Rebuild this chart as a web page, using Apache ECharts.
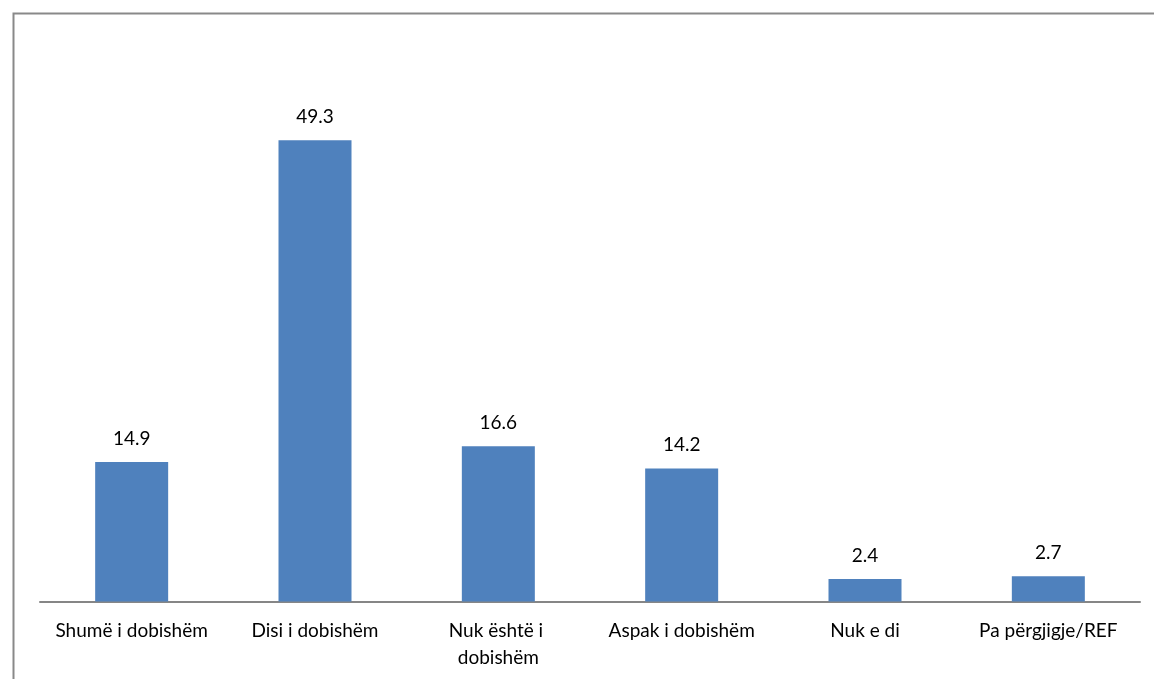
<!DOCTYPE html>
<html><head><meta charset="utf-8">
<script src="https://cdn.jsdelivr.net/npm/echarts@6/dist/echarts.min.js"></script>
<style>html,body{margin:0;padding:0;background:#fff}#c{width:1154px;height:679px}</style>
</head><body><div id="c"></div>
<script>
const categories = ["Shumë i dobishëm", "Disi i dobishëm", "Nuk është i dobishëm", "Aspak i dobishëm", "Nuk e di", "Pa përgjigje/REF"];
const values = [14.9, 49.3, 16.6, 14.2, 2.4, 2.7];

const chart = echarts.init(document.getElementById('c'), null, {renderer: 'canvas'});
chart.setOption({
  animation: false,
  backgroundColor: '#ffffff',
  textStyle: {fontFamily: 'Lato, sans-serif'},
  graphic: [{
    type: 'rect', left: 11, top: 11, silent: true,
    shape: {x: 0, y: 0, width: 1200, height: 720},
    style: {fill: 'none', stroke: '#898989', lineWidth: 2}
  }],
  grid: {left: 40, right: 14, top: 40, bottom: 77.5, containLabel: false},
  xAxis: {
    type: 'category', data: categories,
    axisLine: {lineStyle: {color: '#868686', width: 2}},
    axisTick: {show: false},
    axisLabel: {color: '#000', fontSize: 19, fontFamily: 'Lato, sans-serif', margin: 16, width: 175, overflow: 'break', lineHeight: 27, interval: 0}
  },
  yAxis: {type: 'value', min: 0, max: 60, show: false, splitLine: {show: false}},
  series: [{
    type: 'bar', data: values, barWidth: 73,
    itemStyle: {color: '#4f81bd'},
    label: {show: true, position: 'top', distance: 14, color: '#000', fontSize: 19, fontFamily: 'Lato, sans-serif', formatter: p => p.value.toFixed(1)}
  }]
});
</script></body></html>
